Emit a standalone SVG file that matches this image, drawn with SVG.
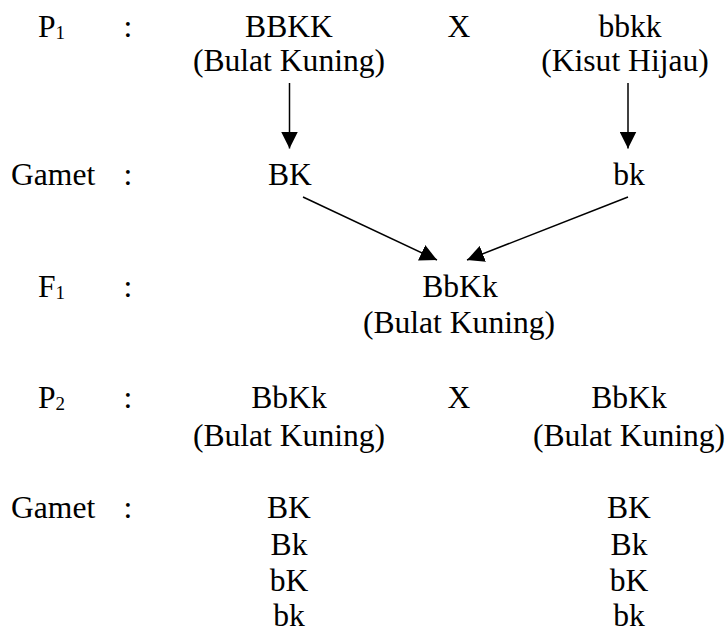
<svg xmlns="http://www.w3.org/2000/svg" width="728" height="633" viewBox="0 0 728 633">
  <style>
    text { font-size: 31.6px; fill: #000; }
    .c { text-anchor: middle; }
    .sub { font-size: 19px; }
    .edge { stroke: #000; stroke-width: 1.5; fill: none; marker-end: url(#arrow); }
  </style>
  <defs>
    <marker id="arrow" viewBox="0 0 10 10" refX="10" refY="5" markerWidth="17" markerHeight="17" markerUnits="userSpaceOnUse" orient="auto">
      <path d="M0,0 L10,5 L0,10 z" fill="#000"/>
    </marker>
  </defs>
  <rect width="728" height="633" fill="#fff"/>

  <g font-family="Liberation Serif, Times New Roman, Times, DejaVu Serif, serif">
  <!-- row labels -->
  <g id="labels">
    <text x="38" y="37">P<tspan class="sub" dy="2">1</tspan></text>
    <text class="c" x="128" y="37">:</text>
    <text x="11" y="185">Gamet</text>
    <text class="c" x="128" y="185">:</text>
    <text x="38" y="297">F<tspan class="sub" dy="2">1</tspan></text>
    <text class="c" x="128" y="297">:</text>
    <text x="38" y="408">P<tspan class="sub" dy="2">2</tspan></text>
    <text class="c" x="128" y="408">:</text>
    <text x="11" y="518">Gamet</text>
    <text class="c" x="128" y="518">:</text>
  </g>

  <!-- first cross -->
  <g id="p1-left">
    <text class="c" x="289" y="37">BBKK</text>
    <text class="c" x="289" y="71">(Bulat Kuning)</text>
  </g>
  <g id="p1-cross"><text class="c" x="459" y="37">X</text></g>
  <g id="p1-right">
    <text class="c" x="630" y="37">bbkk</text>
    <text class="c" x="625" y="71">(Kisut Hijau)</text>
  </g>
  <g id="gamet1-left"><text class="c" x="290" y="185">BK</text></g>
  <g id="gamet1-right"><text class="c" x="629" y="185">bk</text></g>
  <g id="f1">
    <text class="c" x="460" y="297">BbKk</text>
    <text class="c" x="459" y="333">(Bulat Kuning)</text>
  </g>

  <!-- second cross -->
  <g id="p2-left">
    <text class="c" x="289" y="408">BbKk</text>
    <text class="c" x="289" y="446">(Bulat Kuning)</text>
  </g>
  <g id="p2-cross"><text class="c" x="459" y="408">X</text></g>
  <g id="p2-right">
    <text class="c" x="629" y="408">BbKk</text>
    <text class="c" x="629" y="446">(Bulat Kuning)</text>
  </g>
  <g id="gamet2-left">
    <text class="c" x="289" y="518">BK</text>
    <text class="c" x="289" y="554.5">Bk</text>
    <text class="c" x="289" y="590.5">bK</text>
    <text class="c" x="289" y="626">bk</text>
  </g>
  <g id="gamet2-right">
    <text class="c" x="629" y="518">BK</text>
    <text class="c" x="629" y="554.5">Bk</text>
    <text class="c" x="629" y="590.5">bK</text>
    <text class="c" x="629" y="626">bk</text>
  </g>
  </g>

  <!-- connectors -->
  <g id="connectors">
    <line class="edge" x1="289.5" y1="83" x2="289.5" y2="148.5"/>
    <line class="edge" x1="628" y1="83" x2="628" y2="148.5"/>
    <line class="edge" x1="303" y1="197" x2="437" y2="260"/>
    <line class="edge" x1="628" y1="197" x2="467" y2="260"/>
  </g>
</svg>
